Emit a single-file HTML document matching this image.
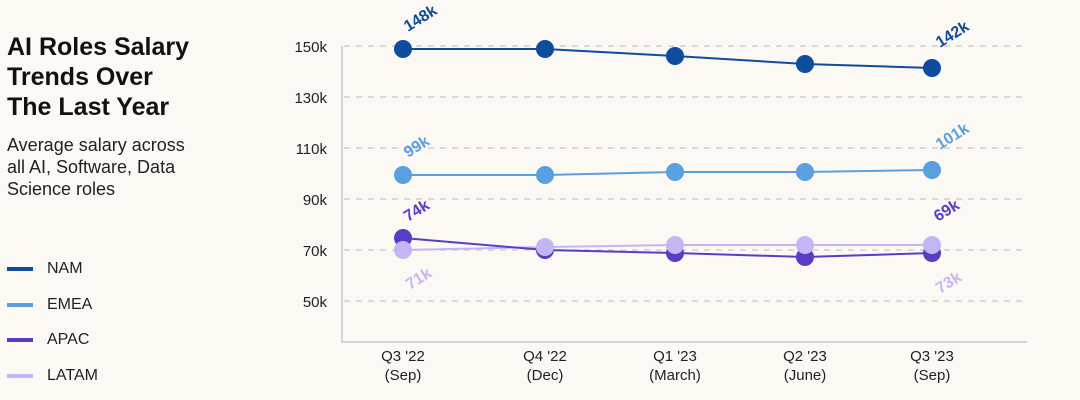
<!DOCTYPE html>
<html><head><meta charset="utf-8"><style>
body{margin:0;width:1080px;height:400px;background:#fcf9f4;font-family:"Liberation Sans",sans-serif;overflow:hidden;position:relative}
.t{position:absolute;left:7px;top:32px;font-size:25px;font-weight:bold;line-height:30px;color:#111}
.s{position:absolute;left:7px;top:134px;font-size:18px;line-height:22px;color:#222}
.lg{position:absolute;left:7px;font-size:16px;color:#222}
.lg i{display:inline-block;width:26px;height:4px;vertical-align:middle;margin-right:14px}
</style></head><body>
<div class="t">AI Roles Salary<br>Trends Over<br>The Last Year</div>
<div class="s">Average salary across<br>all AI, Software, Data<br>Science roles</div>
<div class="lg" style="top:260px"><i style="background:#0e4c9e"></i>NAM</div>
<div class="lg" style="top:296px"><i style="background:#5a9fe0"></i>EMEA</div>
<div class="lg" style="top:331px"><i style="background:#5b3cc4"></i>APAC</div>
<div class="lg" style="top:367px"><i style="background:#c4b5f5"></i>LATAM</div>
<svg width="1080" height="400" style="position:absolute;left:0;top:0" font-family="Liberation Sans,sans-serif">
<g stroke="#c8c8c8" stroke-width="1.2" stroke-dasharray="6,6">
<line x1="344" x2="1027" y1="46" y2="46"/><line x1="344" x2="1027" y1="97" y2="97"/>
<line x1="344" x2="1027" y1="148" y2="148"/><line x1="344" x2="1027" y1="199" y2="199"/>
<line x1="344" x2="1027" y1="250" y2="250"/><line x1="344" x2="1027" y1="301" y2="301"/>
</g>
<path d="M342 46V342H1027" fill="none" stroke="#c8c8c8" stroke-width="1.5"/>
<g font-size="15" fill="#222" text-anchor="end">
<text x="327" y="52">150k</text><text x="327" y="103">130k</text><text x="327" y="154">110k</text>
<text x="327" y="205">90k</text><text x="327" y="256">70k</text><text x="327" y="307">50k</text>
</g>
<g font-size="15" fill="#222" text-anchor="middle">
<text x="403" y="361">Q3 '22</text><text x="403" y="380">(Sep)</text>
<text x="545" y="361">Q4 '22</text><text x="545" y="380">(Dec)</text>
<text x="675" y="361">Q1 '23</text><text x="675" y="380">(March)</text>
<text x="805" y="361">Q2 '23</text><text x="805" y="380">(June)</text>
<text x="932" y="361">Q3 '23</text><text x="932" y="380">(Sep)</text>
</g>
<g stroke-width="2" fill="none">
<polyline stroke="#c4b5f5" points="403,250 545,247 675,245 805,245 932,245"/>
<polyline stroke="#5b3cc4" points="403,238 545,250 675,253 805,257 932,253"/>
<polyline stroke="#5a9fe0" points="403,175 545,175 675,172 805,172 932,170"/>
<polyline stroke="#0e4c9e" points="403,49 545,49 675,56 805,64 932,68"/>
</g>
<g fill="#5b3cc4"><circle cx="403" cy="238" r="9"/><circle cx="545" cy="250" r="9"/><circle cx="675" cy="253" r="9"/><circle cx="805" cy="257" r="9"/><circle cx="932" cy="253" r="9"/></g>
<g fill="#c4b5f5"><circle cx="403" cy="250" r="9"/><circle cx="545" cy="247" r="9"/><circle cx="675" cy="245" r="9"/><circle cx="805" cy="245" r="9"/><circle cx="932" cy="245" r="9"/></g>
<g fill="#5a9fe0"><circle cx="403" cy="175" r="9"/><circle cx="545" cy="175" r="9"/><circle cx="675" cy="172" r="9"/><circle cx="805" cy="172" r="9"/><circle cx="932" cy="170" r="9"/></g>
<g fill="#0e4c9e"><circle cx="403" cy="49" r="9"/><circle cx="545" cy="49" r="9"/><circle cx="675" cy="56" r="9"/><circle cx="805" cy="64" r="9"/><circle cx="932" cy="68" r="9"/></g>
<g font-size="16" font-weight="bold">
<text transform="translate(408,32) rotate(-32)" fill="#0e4c9e">148k</text>
<text transform="translate(940,48) rotate(-32)" fill="#0e4c9e">142k</text>
<text transform="translate(408,158) rotate(-32)" fill="#5a9fe0">99k</text>
<text transform="translate(940,150) rotate(-32)" fill="#5a9fe0">101k</text>
<text transform="translate(408,222) rotate(-32)" fill="#5b3cc4">74k</text>
<text transform="translate(938,222) rotate(-32)" fill="#5b3cc4">69k</text>
<text transform="translate(410,290) rotate(-32)" fill="#c4b5f5">71k</text>
<text transform="translate(940,294) rotate(-32)" fill="#c4b5f5">73k</text>
</g>
</svg>
</body></html>
